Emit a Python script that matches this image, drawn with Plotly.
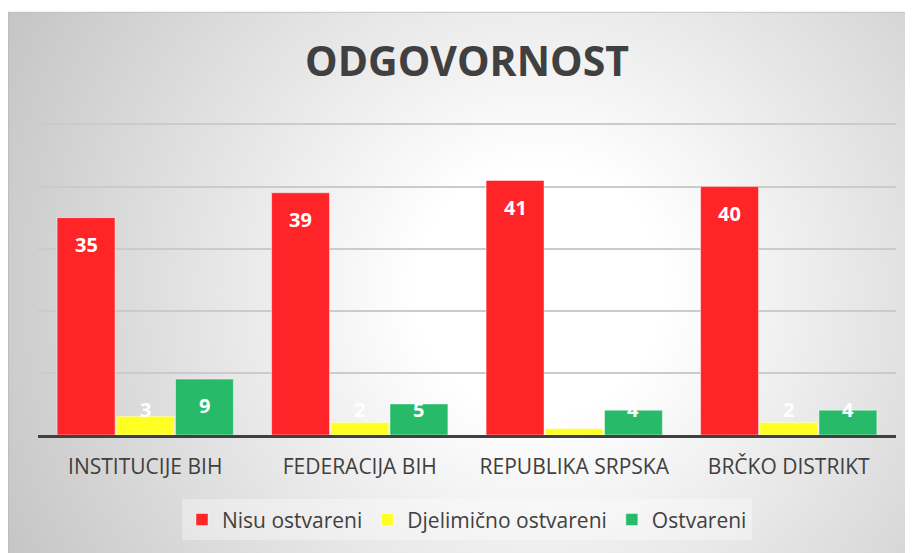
import base64
import plotly.graph_objects as go

categories = ["INSTITUCIJE BIH", "FEDERACIJA BIH", "REPUBLIKA SRPSKA", "BRČKO DISTRIKT"]
series_names = ["Nisu ostvareni", "Djelimično ostvareni", "Ostvareni"]
nisu_ostvareni = [35, 39, 41, 40]
djelimicno_ostvareni = [3, 2, 1, 2]
ostvareni = [9, 5, 4, 4]
colors = ["#FF2427", "#FFFF24", "#27BB69"]

# the page body adds an 8px margin; layout numbers below are in figure pixels
OFF = 8
W, H = 913, 553
YMAX = 50.4
px_per_unit = (435 - 124) / 50.0
plot_w = 896 - 38
plot_h = px_per_unit * YMAX
ML = 38 - OFF
MT = 435 - plot_h - OFF
MR = W - ML - plot_w
MB = H - MT - plot_h

# radial gradient background (chart area frame)
fx0, fy0 = 8 - OFF, 11 - OFF
fw, fh = W - fx0, H - fy0
cx, cy = 540 - OFF - fx0, 290 - OFF - fy0
svg = f'''<svg xmlns="http://www.w3.org/2000/svg" width="{fw}" height="{fh}" viewBox="0 0 {fw} {fh}">
<defs><radialGradient id="g" gradientUnits="userSpaceOnUse" cx="{cx}" cy="{cy}" r="620">
<stop offset="0" stop-color="#ffffff"/><stop offset="0.2" stop-color="#ffffff"/><stop offset="1" stop-color="#c2c2c2"/>
</radialGradient></defs>
<rect x="0" y="0" width="{fw}" height="{fh}" fill="url(#g)"/>
<rect x="0.5" y="0.5" width="{fw}" height="{fh}" fill="none" stroke="#bdbdbd" stroke-width="1"/>
</svg>'''
src = "data:image/svg+xml;base64," + base64.b64encode(svg.encode()).decode()

fig = go.Figure()
all_series = [nisu_ostvareni, djelimicno_ostvareni, ostvareni]
for name, vals, col in zip(series_names, all_series, colors):
    fig.add_trace(go.Bar(
        name=name, x=categories, y=vals,
        marker=dict(color=col, line=dict(color="rgba(255,255,255,0.45)", width=1)),
        hoverinfo="x+y+name",
    ))

bargap = 0.172
slot = (1 - bargap) / 3
annotations = []
for k, vals in enumerate(all_series):
    for i, v in enumerate(vals):
        ypos = max(v - 4.3, 4.05)
        annotations.append(dict(
            x=i + (k - 1) * slot, y=ypos, xref="x", yref="y",
            text=f"<b>{v}</b>", showarrow=False,
            font=dict(family="Open Sans", size=20, color="#ffffff"),
            xanchor="center", yanchor="middle",
        ))

fig.update_layout(
    width=W, height=H,
    margin=dict(l=ML, r=MR, t=MT, b=MB, pad=0),
    paper_bgcolor="#ffffff",
    plot_bgcolor="rgba(0,0,0,0)",
    barmode="group",
    bargap=bargap,
    bargroupgap=0.022,
    title=dict(
        text="<b>ODGOVORNOST</b>",
        font=dict(family="Open Sans", size=41, color="#404040"),
        x=0.5, xanchor="center", xref="paper",
        y=1 - (62 - OFF) / H, yanchor="middle", yref="container",
    ),
    font=dict(family="Open Sans", color="#404040"),
    xaxis=dict(
        showline=True, linecolor="#404040", linewidth=3,
        showgrid=False, zeroline=False,
        ticks="outside", ticklen=11, tickcolor="rgba(0,0,0,0)",
        tickfont=dict(family="Open Sans", size=21, color="#404040"),
    ),
    yaxis=dict(
        range=[0, YMAX], tickvals=[10, 20, 30, 40, 50],
        showgrid=True, gridcolor="#cbcbcb", gridwidth=1.5,
        zeroline=False, showline=False, showticklabels=False,
        fixedrange=True,
    ),
    legend=dict(
        orientation="h", x=0.5, xanchor="center",
        y=-(520 - 435) / plot_h,
        yanchor="middle",
        bgcolor="rgba(255,255,255,0.35)",
        font=dict(family="Open Sans", size=21, color="#404040"),
        itemwidth=30, traceorder="normal",
    ),
    annotations=annotations,
    images=[dict(
        source=src, xref="paper", yref="paper",
        x=(fx0 - ML) / plot_w, y=(MT + plot_h - fy0) / plot_h,
        sizex=fw / plot_w, sizey=fh / plot_h,
        xanchor="left", yanchor="top", sizing="stretch", layer="below",
    )],
    showlegend=True,
)

fig.write_html("out.html")
